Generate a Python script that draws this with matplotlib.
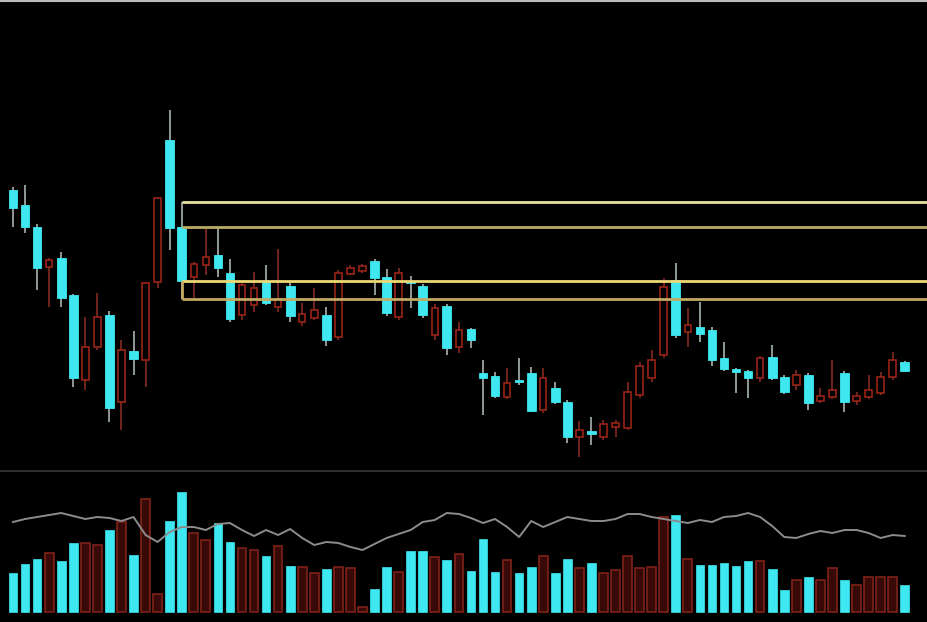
import numpy as np
import matplotlib
matplotlib.use("Agg")
import matplotlib.pyplot as plt

# daily OHLC (price units)
opens = [20.50, 19.75, 18.65, 16.65, 17.10, 15.25, 11.00, 12.65, 14.25, 9.90,
         12.45, 12.00, 15.90, 23.00, 18.65, 16.15, 16.75, 17.25, 16.35, 14.25,
         14.75, 15.90, 14.65, 15.70, 13.90, 14.10, 14.25, 13.15, 16.30, 16.45,
         16.95, 16.15, 14.15, 15.90, 15.70, 13.25, 14.70, 12.65, 13.55, 11.35,
         11.20, 10.15, 11.00, 11.35, 9.50, 10.60, 9.90, 8.15, 8.45, 8.15,
         8.65, 8.60, 10.25, 11.10, 12.25, 16.00, 13.40, 13.65, 13.50, 12.10,
         11.55, 11.45, 11.10, 12.15, 11.15, 10.75, 11.25, 9.95, 10.15, 11.35,
         9.95, 10.15, 10.35, 11.15, 11.90]
highs = [20.65, 20.75, 18.80, 17.10, 17.40, 15.30, 14.15, 15.35, 14.45, 13.00,
         13.45, 15.90, 20.15, 24.50, 19.90, 16.90, 18.60, 18.60, 17.05, 15.85,
         16.40, 16.75, 17.55, 15.95, 14.85, 15.60, 14.65, 16.50, 16.75, 16.80,
         17.05, 16.55, 16.60, 16.20, 15.80, 14.80, 14.80, 13.90, 13.60, 12.00,
         11.40, 11.60, 12.10, 11.65, 11.60, 10.90, 10.00, 8.95, 9.15, 9.00,
         9.00, 10.90, 11.90, 12.50, 16.10, 16.85, 14.60, 14.90, 13.65, 12.90,
         11.60, 11.50, 12.20, 12.75, 11.25, 11.50, 11.35, 10.60, 12.00, 11.45,
         10.40, 11.25, 11.40, 12.40, 11.95]
lows = [18.65, 18.35, 15.50, 14.65, 14.65, 10.65, 10.50, 12.50, 8.90, 8.50,
        11.25, 10.65, 15.60, 17.50, 15.05, 15.10, 16.25, 16.15, 13.90, 14.00,
        14.40, 14.75, 14.40, 13.90, 13.70, 14.00, 12.70, 13.00, 16.25, 16.35,
        15.25, 14.20, 14.00, 14.60, 14.10, 13.00, 12.25, 12.35, 12.60, 9.25,
        10.10, 10.05, 10.75, 9.40, 9.35, 9.80, 7.85, 7.15, 7.75, 8.00,
        8.15, 8.50, 10.10, 10.90, 12.10, 13.10, 12.65, 12.90, 11.70, 11.45,
        10.35, 10.10, 10.90, 11.00, 10.30, 10.50, 9.50, 9.85, 10.05, 9.40,
        9.75, 10.05, 10.25, 11.00, 11.40]
closes = [19.60, 18.65, 16.60, 17.00, 15.10, 11.10, 12.65, 14.15, 9.60, 12.50,
          12.05, 15.85, 20.10, 18.60, 15.95, 16.80, 17.15, 16.60, 14.05, 15.75,
          15.60, 14.85, 15.05, 14.20, 14.30, 14.50, 13.00, 16.35, 16.60, 16.70,
          16.10, 14.35, 16.35, 15.85, 14.25, 14.60, 12.60, 13.50, 13.00, 11.10,
          10.20, 10.85, 10.90, 9.45, 11.10, 9.90, 8.15, 8.50, 8.30, 8.80,
          8.85, 10.40, 11.70, 12.00, 15.65, 13.25, 13.75, 13.30, 12.00, 11.55,
          11.40, 11.10, 12.10, 11.10, 10.40, 11.25, 9.85, 10.20, 10.50, 9.90,
          10.20, 10.50, 11.15, 12.00, 11.45]

volume = [3900, 4800, 5300, 5900, 5100, 6900, 6900, 6700, 8200, 9000,
          5700, 11300, 1800, 9100, 12000, 7900, 7200, 8900, 7000, 6400,
          6200, 5600, 6600, 4600, 4500, 3900, 4300, 4500, 4400, 500,
          2300, 4500, 4000, 6100, 6100, 5500, 5200, 5800, 4100, 7300,
          4000, 5200, 3900, 4500, 5600, 3900, 5300, 4400, 4900, 3900,
          4200, 5600, 4400, 4500, 9500, 9700, 5300, 4700, 4700, 4900,
          4600, 5100, 5100, 4300, 2200, 3200, 3500, 3200, 4400, 3200,
          2700, 3500, 3500, 3500, 2700]
vol_ma = [9000, 9300, 9500, 9700, 9900, 9600, 9300, 9500, 9400, 9100,
          9500, 7700, 7000, 8000, 8500, 8500, 8200, 8800, 8900, 8200,
          7600, 8200, 7700, 8300, 7400, 6700, 7000, 6900, 6500, 6200,
          6800, 7400, 7800, 8200, 9000, 9200, 9900, 9800, 9400, 8900,
          9300, 8500, 7500, 9100, 8500, 9000, 9500, 9300, 9100, 9100,
          9300, 9800, 9800, 9500, 9300, 9100, 8900, 9200, 9000, 9500,
          9600, 9900, 9500, 8600, 7500, 7400, 7800, 8100, 7900, 8200,
          8200, 7900, 7400, 7700, 7600]

# support / resistance levels taken from the big down day
levels = [19.90, 18.65, 15.95, 15.05]
level_colors = ["#e6e29a", "#b9ab62", "#ecd874", "#c2aa62"]
level_start = 14

CYAN = "#3fe8f0"
RED = "#9a2418"
RED_WICK = "#7a2620"
GREY_WICK = "#9aa6a6"

o = np.array(opens)
h = np.array(highs)
l = np.array(lows)
c = np.array(closes)
x = np.arange(len(o))
up = c > o

fig = plt.figure(figsize=(9.28, 6.22), dpi=100, facecolor="black")
ax = fig.add_axes([0, 1 - 470 / 622, 1, 470 / 622])
axv = fig.add_axes([0, 0, 1, 147 / 622])
for a in (ax, axv):
    a.set_facecolor("black")
    a.set_xlim(-1.08, 75.93)
    a.axis("off")

ax.set_ylim(6.5, 30)
axv.set_ylim(-1000, 13700)

# -------------------------------
# CANDLES
# -------------------------------
w = 0.72
top = np.maximum(o, c)
bot = np.minimum(o, c)

# wicks
ax.vlines(x[~up], l[~up], h[~up], color=GREY_WICK, lw=1.3, zorder=2)
ax.vlines(x[up], top[up], h[up], color=RED_WICK, lw=1.3, zorder=2)
ax.vlines(x[up], l[up], bot[up], color=RED_WICK, lw=1.3, zorder=2)

# down days: filled cyan, up days: hollow red
dn_h = np.maximum(top[~up] - bot[~up], 0.08)
ax.bar(x[~up], dn_h, bottom=bot[~up], width=w, color=CYAN,
       edgecolor=CYAN, lw=0.6, zorder=3)
ax.bar(x[up], top[up] - bot[up], bottom=bot[up], width=w * 0.75,
       facecolor="black", edgecolor=RED, lw=1.2, zorder=3)

# horizontal levels
for lev, col in zip(levels, level_colors):
    ax.hlines(lev, level_start, 75.93, color=col, lw=2.0, zorder=4)
ax.vlines(level_start, levels[3], levels[2], color=level_colors[3], lw=2.0, zorder=4)

# panel separators
fig.add_artist(plt.Line2D([0, 1], [1 - 471 / 622] * 2, color="#2e2e2e", lw=1.5))
fig.add_artist(plt.Line2D([0, 1], [0.998] * 2, color="#bdbdbd", lw=1.5))

# -------------------------------
# VOLUME
# -------------------------------
vol = np.array(volume)
axv.bar(x[~up], vol[~up], width=w, color=CYAN, edgecolor=CYAN, lw=0.5, zorder=2)
axv.bar(x[up], vol[up], width=w, facecolor="#380a07", edgecolor="#7e2219",
        lw=1.2, zorder=2)
axv.plot(x, vol_ma, color="#8c8c8c", lw=1.4, zorder=3)

fig.savefig("out.png", dpi=100, facecolor="black")
